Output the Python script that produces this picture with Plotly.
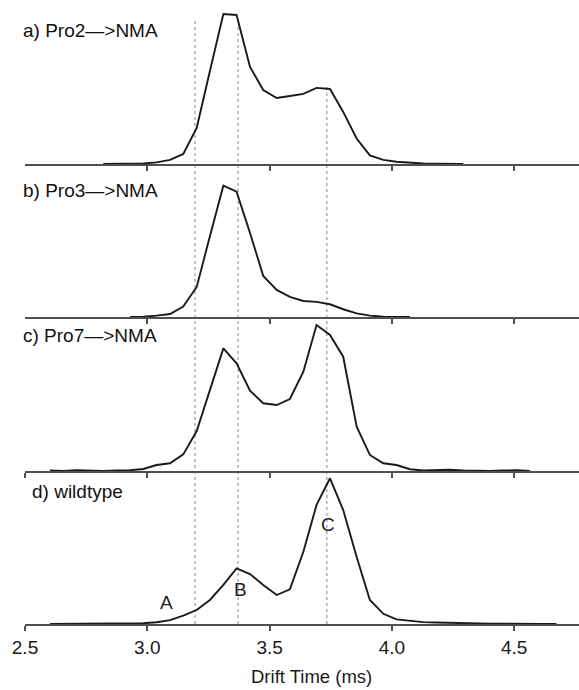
import plotly.graph_objects as go

# Drift time bins (ms)
drift_time = [2.602, 2.657, 2.711, 2.766, 2.820, 2.875, 2.929, 2.984, 3.038, 3.093,
              3.147, 3.202, 3.256, 3.311, 3.365, 3.420, 3.474, 3.529, 3.583, 3.638,
              3.692, 3.747, 3.801, 3.856, 3.910, 3.965, 4.019, 4.074, 4.128, 4.183,
              4.237, 4.292, 4.346, 4.401, 4.455, 4.510, 4.564, 4.619, 4.673]

# Relative intensity (% of each panel's maximum)
pro2_nma = [None, None, None, None, 0, 0, 0, 0.3, 1.1, 2.7,
            6.7, 24, 62, 100, 99.3, 64.7, 49.3, 44, 45.3, 46.7,
            50.7, 50, 34.7, 17, 5.7, 2.7, 1.5, 0.7, 0.3, 0.2,
            0, 0, None, None, None, None, None, None, None]

pro3_nma = [None, None, None, None, None, None, 0, 0.2, 1.0, 2.3,
            7.9, 22.9, 61.5, 100, 95.4, 64, 31.3, 20.6, 15.3, 12.2,
            11.5, 9.7, 5.9, 2.8, 1.0, 0.2, 0, 0, None, None,
            None, None, None, None, None, None, None, None, None]

pro7_nma = [0.3, 0, 0.5, 0.2, 0, 0.3, 0.5, 1.4, 4.1, 5.3,
            11.4, 27.4, 55.5, 84, 73.8, 55, 46.4, 45.2, 49.3, 68,
            100, 93.2, 78.3, 30.3, 11, 5.3, 4.1, 1.2, 0.3, 0.7,
            0.9, 0.3, 0, 0, 0.3, 0.5, 0, None, None]

wildtype = [0, 0, 0, 0, 0, 0, 0.2, 0.5, 1.2, 2.7,
            5.7, 9.6, 16.5, 26.8, 38.2, 34.3, 26.8, 19.9, 23.8, 49.6,
            81.7, 100, 78.2, 46, 16.5, 7, 3.2, 2, 1.3, 1,
            0.7, 0.5, 0.3, 0.2, 0.2, 0, 0, 0, 0]

panel_labels = ["a) Pro2\u2014>NMA", "b) Pro3\u2014>NMA", "c) Pro7\u2014>NMA", "d) wildtype"]
peak_labels = ["A", "B", "C"]
peak_x = [3.080, 3.383, 3.739]
peak_y = [15.0, 23.5, 68.5]
guide_x = [3.195, 3.371, 3.734]
guide_top = [0.9696, 0.958, 0.862]

x_ticks = [2.5, 3.0, 3.5, 4.0, 4.5]
x_ticklabels = ["2.5", "3.0", "3.5", "4.0", "4.5"]
x_title = "Drift Time (ms)"

series = [pro2_nma, pro3_nma, pro7_nma, wildtype]
domains = [[0.7372, 1.0], [0.4920, 0.7372], [0.2452, 0.4920], [0.0, 0.2452]]
yranges = [[0, 109.3], [0, 116.5], [0, 105.5], [0, 105.0]]
label_y = [0.951, 0.695, 0.463, 0.212]
label_x = [-0.007, -0.007, -0.007, 0.009]

FONT = "Liberation Sans, Arial, Helvetica, sans-serif"

fig = go.Figure()
for i, s in enumerate(series):
    sfx = "" if i == 0 else str(i + 1)
    fig.add_trace(go.Scatter(x=drift_time, y=s, mode="lines",
                             line=dict(color="#1a1a1a", width=1.9),
                             xaxis="x" + sfx, yaxis="y" + sfx,
                             showlegend=False, hoverinfo="skip",
                             connectgaps=False))

layout = dict(
    width=579, height=690,
    margin=dict(l=25, r=0, t=0, b=66),
    paper_bgcolor="white", plot_bgcolor="white",
    font=dict(family=FONT, color="#1a1a1a"),
    showlegend=False,
)

for i in range(4):
    sfx = "" if i == 0 else str(i + 1)
    tv = x_ticks if i >= 2 else x_ticks[1:]
    tt = x_ticklabels if i >= 2 else x_ticklabels[1:]
    xa = dict(domain=[0, 1], anchor="y" + sfx, range=[2.5, 4.765],
              showline=True, linecolor="#505050", linewidth=1.6,
              ticks="outside", ticklen=5, tickwidth=1.5, tickcolor="#505050",
              tickvals=tv, ticktext=tt,
              showticklabels=(i == 3), showgrid=False, zeroline=False,
              tickfont=dict(size=19, color="#1a1a1a", family=FONT))
    if i > 0:
        xa["matches"] = "x"
    layout["xaxis" + sfx] = xa
    layout["yaxis" + sfx] = dict(domain=domains[i], anchor="x" + sfx,
                                 range=yranges[i], visible=False)

fig.update_layout(**layout)

annotations = []
for i, txt in enumerate(panel_labels):
    annotations.append(dict(text=txt, x=label_x[i], xref="paper", y=label_y[i], yref="paper",
                            xanchor="left", yanchor="middle", showarrow=False,
                            font=dict(size=19, color="#111111", family=FONT)))
for t, px_, py_ in zip(peak_labels, peak_x, peak_y):
    annotations.append(dict(text=t, x=px_, y=py_, xref="x4", yref="y4",
                            xanchor="center", yanchor="middle", showarrow=False,
                            font=dict(size=19, color="#222222", family=FONT)))
# axis title
annotations.append(dict(text=x_title, x=0.518, xref="paper", y=-0.0835, yref="paper",
                        xanchor="center", yanchor="middle", showarrow=False,
                        font=dict(size=18.5, color="#1a1a1a", family=FONT)))
fig.update_layout(annotations=annotations)

shapes = []
for gx, gt in zip(guide_x, guide_top):
    shapes.append(dict(type="line", xref="x4", yref="paper", x0=gx, x1=gx,
                       y0=0, y1=gt, layer="below",
                       line=dict(color="#9a9a9a", width=1.2, dash="dot")))
fig.update_layout(shapes=shapes)

fig.write_html("out.html")
